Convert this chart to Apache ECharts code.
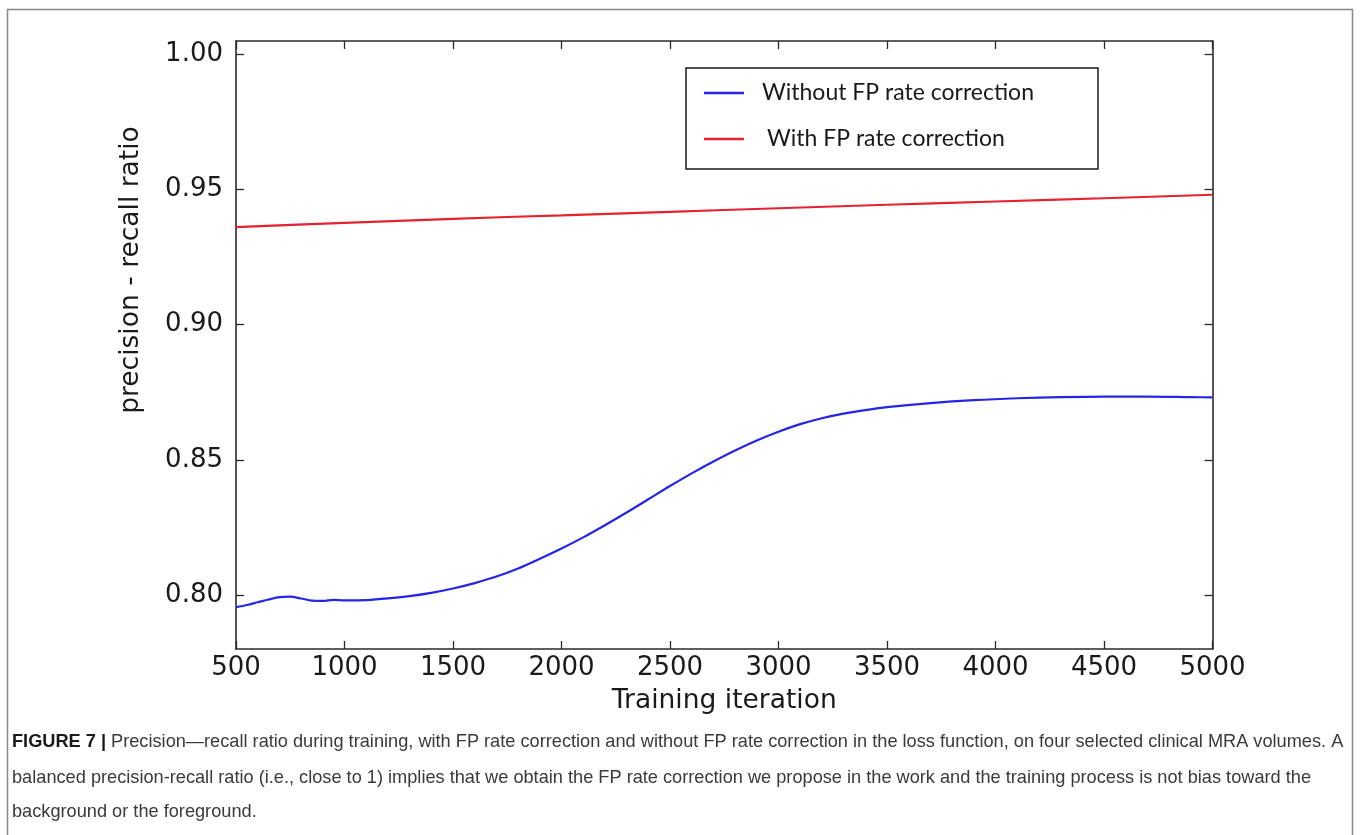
<!DOCTYPE html>
<html>
<head>
<meta charset="utf-8">
<script src="https://cdn.jsdelivr.net/npm/echarts@6/dist/echarts.min.js"></script>
<style>
html,body{margin:0;padding:0;background:#fff;}
#chart{width:1360px;height:835px;}
</style>
</head>
<body>
<div id="chart"></div>
<script>
// ---- data ----
const seriesNames = ['Without FP rate correction', 'With FP rate correction'];
const blueIter = [500,550,600,650,700,750,800,850,900,950,1000,1100,1200,1300,1400,1500,1600,1700,1800,1900,2000,2100,2200,2300,2400,2500,2600,2700,2800,2900,3000,3100,3200,3300,3400,3500,3700,3900,4100,4300,4500,4700,4900,5000];
const blueVals = [0.7955,0.7963,0.7973,0.7983,0.7992,0.7994,0.7987,0.7979,0.7978,0.7982,0.7980,0.7981,0.7987,0.7996,0.8008,0.8024,0.8044,0.8068,0.8098,0.8134,0.8172,0.8213,0.8258,0.8305,0.8354,0.8403,0.8450,0.8494,0.8535,0.8572,0.8604,0.8632,0.8654,0.8671,0.8684,0.8695,0.8710,0.8721,0.8728,0.8732,0.8734,0.8734,0.8732,0.8731];
const redIter = [500,1000,1500,2000,2500,3000,3500,4000,4500,5000];
const redVals = [0.9361,0.9377,0.9392,0.9405,0.9418,0.9431,0.9444,0.9456,0.9468,0.9481];
const yTicks = [0.80,0.85,0.90,0.95,1.00];
const xTitle = 'Training iteration';
const yTitle = 'precision - recall ratio';
const captionLines = [
  '{b|FIGURE 7 |} Precision\u2014recall ratio during training, with FP rate correction and without FP rate correction in the loss function, on four selected clinical MRA volumes. A',
  'balanced precision-recall ratio (i.e., close to 1) implies that we obtain the FP rate correction we propose in the work and the training process is not bias toward the',
  'background or the foreground.'
];

const pair = (xs, ys) => xs.map((x, i) => [x, ys[i]]);
const tickFont = {fontFamily: 'DejaVu Sans', fontSize: 26, color: '#1a1a1a'};
const axisLine = {show: true, lineStyle: {color: '#2a2a2a', width: 1.6}};
const tick = {show: true, inside: true, length: 8, lineStyle: {color: '#2a2a2a', width: 1.3}};

const chart = echarts.init(document.getElementById('chart'), null, {renderer: 'canvas'});
chart.setOption({
  animation: false,
  backgroundColor: '#ffffff',
  grid: {left: 236, right: 147.5, top: 41, bottom: 186, containLabel: false},
  legend: {
    data: seriesNames,
    orient: 'vertical',
    left: 686,
    top: 68,
    itemWidth: 40,
    itemHeight: 2.5,
    itemGap: 16,
    icon: 'rect',
    borderColor: '#1a1a1a',
    borderWidth: 1.5,
    borderRadius: 0,
    padding: [10, 64, 15, 18],
    formatter: name => name === seriesNames[0] ? '{a|' + name + '}' : '{c|' + name + '}',
    textStyle: {
      fontFamily: 'Lato', fontSize: 23, color: '#1a1a1a', lineHeight: 30,
      rich: {
        a: {fontFamily: 'Lato', fontSize: 23, lineHeight: 30, padding: [0, 0, 0, 13]},
        c: {fontFamily: 'Lato', fontSize: 23, lineHeight: 30, padding: [0, 0, 0, 18]}
      }
    }
  },
  xAxis: [{
    type: 'value', min: 500, max: 5000, interval: 500, position: 'bottom',
    name: xTitle, nameLocation: 'middle', nameGap: 39,
    nameTextStyle: {fontFamily: 'DejaVu Sans', fontSize: 26.5, color: '#1a1a1a'},
    axisLine: axisLine, axisTick: tick,
    axisLabel: Object.assign({margin: 6, formatter: v => String(v)}, tickFont),
    splitLine: {show: false}
  }, {
    type: 'value', min: 500, max: 5000, interval: 500, position: 'top',
    axisLine: axisLine, axisTick: tick, axisLabel: {show: false}, splitLine: {show: false}
  }],
  yAxis: [{
    type: 'value', min: 0.78, max: 1.005, position: 'left',
    name: yTitle, nameLocation: 'middle', nameGap: 91, nameRotate: 90,
    nameTextStyle: {fontFamily: 'DejaVu Sans', fontSize: 26.5, color: '#1a1a1a', padding: [0, 0, 0, 150]},
    axisLine: axisLine,
    axisTick: Object.assign({customValues: yTicks}, tick),
    axisLabel: Object.assign({margin: 13, customValues: yTicks, formatter: v => v.toFixed(2)}, tickFont),
    splitLine: {show: false}
  }, {
    type: 'value', min: 0.78, max: 1.005, position: 'right',
    axisLine: axisLine,
    axisTick: Object.assign({customValues: yTicks}, tick),
    axisLabel: {show: false}, splitLine: {show: false}
  }],
  series: [{
    name: seriesNames[0], type: 'line', xAxisIndex: 0, yAxisIndex: 0,
    data: pair(blueIter, blueVals), smooth: 0.3, showSymbol: false,
    lineStyle: {color: '#2525e6', width: 2.2}, itemStyle: {color: '#2525e6'}
  }, {
    name: seriesNames[1], type: 'line', xAxisIndex: 0, yAxisIndex: 0,
    data: pair(redIter, redVals), smooth: 0.3, showSymbol: false,
    lineStyle: {color: '#e5222f', width: 2.2}, itemStyle: {color: '#e5222f'}
  }],
  graphic: [
    {type: 'rect', z: -1, silent: true,
     shape: {x: 7.5, y: 9.5, width: 1345, height: 900},
     style: {fill: null, stroke: '#8a8a8a', lineWidth: 1.5}},
    ...captionLines.map((t, i) => ({
      type: 'text', silent: true, x: 12, y: [742, 778, 812][i],
      style: {
        text: t, fontFamily: 'Liberation Sans', fontSize: 18.2, fill: '#3a3a3a',
        verticalAlign: 'middle', align: 'left',
        rich: {b: {fontFamily: 'Liberation Sans', fontSize: 18.2, fontWeight: 'bold', fill: '#1a1a1a'}}
      }
    }))
  ]
});
</script>
</body>
</html>
